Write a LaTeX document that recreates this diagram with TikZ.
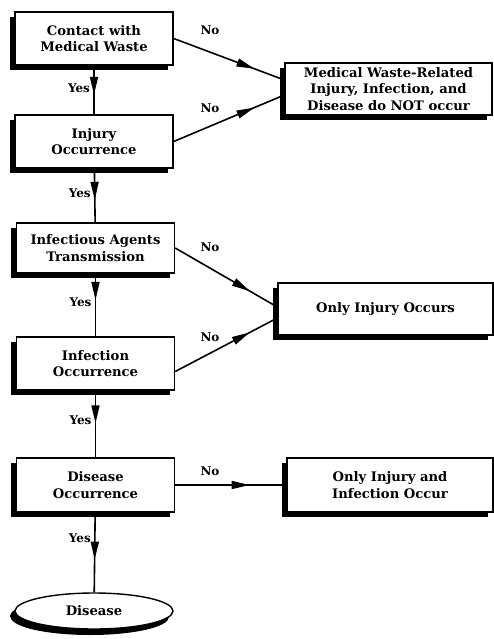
\documentclass[tikz,border=0pt]{standalone}
\usepackage{fontspec}
\setmainfont{DejaVu Serif}
\usepackage{tikz}
\usetikzlibrary{arrows.meta,shapes.geometric,positioning,decorations.markings,shadows}

\begin{document}
\begin{tikzpicture}[x=1bp, y=-1bp,
    box/.style={draw, line width=1.4bp, fill=white, minimum width=158bp, minimum height=53bp, align=center,
        font=\fontsize{13.2}{16.5}\selectfont\bfseries,
        drop shadow={shadow xshift=-5bp, shadow yshift=-5bp, fill=black, opacity=1}},
    res/.style={box, minimum width=207bp},
    lbl/.style={font=\fontsize{12}{14}\selectfont\bfseries},
    flow/.style={line width=1.6bp, postaction={decorate},
        decoration={markings, mark=at position #1 with {\arrow{Triangle[length=18bp,width=8bp]}}}}
]
\useasboundingbox (0,0) rectangle (494,639);

% left column
\node[box] (contact) at (94,38.5) {Contact with\\Medical Waste};
\node[box] (injury) at (94,141.5) {Injury\\Occurrence};
\node[box, minimum height=50bp] (agents) at (95.5,248) {Infectious Agents\\Transmission};
\node[box] (infection) at (95.5,363.5) {Infection\\Occurrence};
\node[box, minimum height=54bp] (diseaseocc) at (95.5,485) {Disease\\Occurrence};
\node[box, ellipse, minimum width=158bp, minimum height=36bp, drop shadow={shadow xshift=-4bp, shadow yshift=-6bp, fill=black, opacity=1}] (disease) at (94,611) {Disease};

% outcomes
\node[res, inner ysep=0bp, minimum height=52bp] (none) at (388.5,89) {Medical Waste-Related\\Injury, Infection, and\\Disease do NOT occur};
\node[res, minimum width=215bp, minimum height=52bp] (injonly) at (385.5,309) {Only Injury Occurs};
\node[res, minimum width=206bp, minimum height=54bp] (infonly) at (390,485) {Only Injury and\\Infection Occur};

% yes branch
\draw[flow=0.6] (contact) -- node[lbl, left, pos=0.46] {Yes} (injury);
\draw[flow=0.58] (injury) -- node[lbl, left, pos=0.45] {Yes} (agents);
\draw[flow=0.42] (agents) -- node[lbl, left, pos=0.45] {Yes} (infection);
\draw[flow=0.49] (infection) -- node[lbl, left, pos=0.44] {Yes} (diseaseocc);
\draw[flow=0.59] (diseaseocc) -- node[lbl, left, pos=0.32] {Yes} (disease);

% no branch
\draw[flow=0.73] (contact.east) -- ([yshift=9bp]none.west);
\draw[flow=0.73] (injury.east) -- ([yshift=-6bp]none.west);
\draw[flow=0.73] (agents.east) -- ([yshift=2bp]injonly.west);
\draw[flow=0.73] ([yshift=-8bp]infection.east) -- ([yshift=-9bp]injonly.west);
\draw[flow=0.67] (diseaseocc) -- (infonly);
\node[lbl] (no1) at (210,30) {No};
\node[lbl] (no2) at (210,108) {No};
\node[lbl] (no3) at (210,247) {No};
\node[lbl] (no4) at (210,337) {No};
\node[lbl] (no5) at (210,471) {No};
\end{tikzpicture}
\end{document}
